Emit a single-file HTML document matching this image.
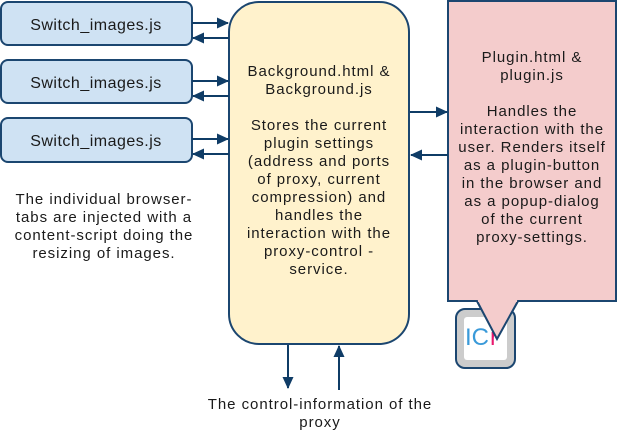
<!DOCTYPE html>
<html><head><meta charset="utf-8"><style>
html,body{margin:0;padding:0;background:#fff;}
svg text{font-family:"Liberation Sans",sans-serif;fill:#1a1a1a;}
.t{font-size:15px;letter-spacing:0.95px;}
</style></head><body>
<svg width="618" height="432" viewBox="0 0 618 432" xmlns="http://www.w3.org/2000/svg">
<defs>
<marker id="a" markerWidth="12" markerHeight="12" refX="11" refY="5.5" orient="auto" markerUnits="userSpaceOnUse">
<path d="M0,0 L12,5.5 L0,11 Z" fill="#0f3c66"/></marker>
</defs>
<g fill="#cfe2f3" stroke="#1b4670" stroke-width="2">
<rect x="1" y="2" width="191" height="43" rx="7"/>
<rect x="1" y="60" width="191" height="43" rx="7"/>
<rect x="1" y="118" width="191" height="44" rx="7"/>
</g>
<g text-anchor="middle" style="font-size:16px;letter-spacing:0.5px">
<text x="96" y="30">Switch_images.js</text>
<text x="96" y="88">Switch_images.js</text>
<text x="96" y="146">Switch_images.js</text>
</g>
<rect x="229" y="2" width="180" height="342" rx="30" fill="#fff2cc" stroke="#1b4670" stroke-width="2"/>
<g class="t" text-anchor="middle">
<text x="319" y="76">Background.html &amp;</text>
<text x="319" y="94">Background.js</text>
<text x="319" y="130">Stores the current</text>
<text x="319" y="148">plugin settings</text>
<text x="319" y="166">(address and ports</text>
<text x="319" y="184">of proxy, current</text>
<text x="319" y="202">compression) and</text>
<text x="319" y="220">handles the</text>
<text x="319" y="238">interaction with the</text>
<text x="319" y="256">proxy-control -</text>
<text x="319" y="274">service.</text>
</g>
<path d="M448,1 H616 V301 H518 L497,339 L477,301 H448 Z" fill="#f4cccc" stroke="#1b4670" stroke-width="2"/>
<g class="t" text-anchor="middle">
<text x="532" y="62">Plugin.html &amp;</text>
<text x="532" y="80">plugin.js</text>
<text x="532" y="116">Handles the</text>
<text x="532" y="134">interaction with the</text>
<text x="532" y="152">user. Renders itself</text>
<text x="532" y="170">as a plugin-button</text>
<text x="532" y="188">in the browser and</text>
<text x="532" y="206">as a popup-dialog</text>
<text x="532" y="224">of the current</text>
<text x="532" y="242">proxy-settings.</text>
</g>
<rect x="456" y="309" width="59" height="59" rx="9" fill="#cccccc" stroke="#1b4670" stroke-width="2"/>
<rect x="464" y="317" width="43" height="43" rx="3" fill="#fff"/>
<text x="465" y="345" style="font-size:24px;fill:#3a9ad9">IC</text>
<text x="490" y="345" style="font-size:24px;fill:#e8196e">r</text>
<path d="M477,301 L497,339 L518,301" fill="#f4cccc" stroke="#1b4670" stroke-width="2"/>
<rect x="478" y="298" width="39" height="4" fill="#f4cccc"/>
<g stroke="#0f3c66" stroke-width="2" fill="none">
<line x1="192" y1="23" x2="228" y2="23" marker-end="url(#a)"/>
<line x1="229" y1="38" x2="193" y2="38" marker-end="url(#a)"/>
<line x1="192" y1="81" x2="228" y2="81" marker-end="url(#a)"/>
<line x1="229" y1="96" x2="193" y2="96" marker-end="url(#a)"/>
<line x1="192" y1="139" x2="228" y2="139" marker-end="url(#a)"/>
<line x1="229" y1="154" x2="193" y2="154" marker-end="url(#a)"/>
<line x1="410" y1="112" x2="447" y2="112" marker-end="url(#a)"/>
<line x1="448" y1="155" x2="411" y2="155" marker-end="url(#a)"/>
<line x1="288" y1="345" x2="288" y2="388" marker-end="url(#a)"/>
<line x1="339" y1="390" x2="339" y2="346" marker-end="url(#a)"/>
</g>
<g class="t" text-anchor="middle">
<text x="104" y="204">The individual browser-</text>
<text x="104" y="222">tabs are injected with a</text>
<text x="104" y="240">content-script doing the</text>
<text x="104" y="258">resizing of images.</text>
<text x="320" y="409">The control-information of the</text>
<text x="320" y="427">proxy</text>
</g>
</svg>
</body></html>
